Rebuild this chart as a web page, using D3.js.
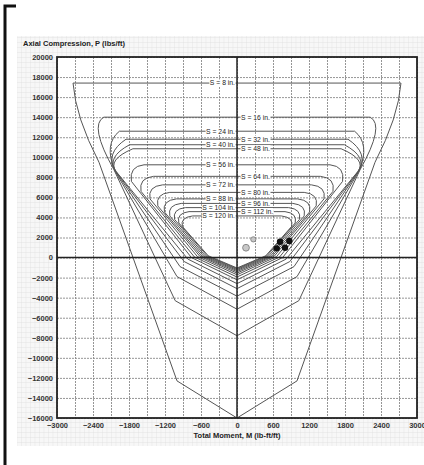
<!DOCTYPE html>
<html>
<head>
<meta charset="utf-8">
<script src="https://cdn.jsdelivr.net/npm/d3@7"></script>
<style>
body { margin: 0; background: #fff; }
svg text { font-family: "Liberation Sans", Arial, sans-serif; }
.tick-label { font-size: 7.5px; font-weight: bold; fill: #333; }
.axis-label { font-size: 7.5px; font-weight: bold; fill: #222; }
.s-label { font-size: 6.8px; fill: #222; }
.grid line { stroke: #8a8a8a; stroke-dasharray: 2,1; stroke-width: 0.9; }
.curve { fill: none; stroke: #555; stroke-width: 1; }
</style>
</head>
<body>
<div id="viz"></div>
<script>
const width = 424;
const height = 465;

// bar spacing for each curve, in.
const spacing = [8, 16, 24, 32, 40, 48, 56, 64, 72, 80, 88, 96, 104, 112, 120];
// right half of each curve (left half is the mirror)
const pTop  = [17400, 14000, 12600, 11800, 11250, 10850, 9250, 8100, 7250, 6500, 5850, 5400, 4980, 4580, 4150];
const mTop  = [2733, 2220, 1960, 1850, 1790, 1735, 1550, 1390, 1240, 1120, 1010, 930, 860, 800, 740];
// control point of the rounded knee
const mCtrl = [2690, 2470, 2220, 2200, 2180, 2170, 1800, 1640, 1490, 1360, 1250, 1160, 1080, 1010, 950];
const pCtrl = [14000, 13200, 11350, 10400, 10000, 9750, 9100, 7950, 7100, 6350, 5700, 5250, 4830, 4430, 4000];
const mOut  = [2300, 2050, 2040, 2030, 2020, 2010, 1760, 1600, 1450, 1320, 1210, 1120, 1040, 970, 910];
const pOut  = [9500, 8750, 8700, 8650, 8600, 8550, 7600, 6600, 5850, 5150, 4550, 4150, 3800, 3450, 3100];
const mLow  = [1000, 1030, 1000, 950, 880, 820, 760, 710, 660, 620, 590, 560, 530, 500, 480];
const pLow  = [-12300, -4300, -1900, -900, -400, -150, 0, 60, 100, 130, 150, 160, 170, 175, 180];
const pTip  = [-16000, -7800, -5150, -3850, -3100, -2600, -2220, -1940, -1720, -1550, -1410, -1290, -1190, -1110, -1040];

// applied loads
const loadM = [717, 872, 662, 800];
const loadP = [1575, 1645, 918, 978];
const openM = [150, 272];
const openP = [980, 1815];

const xTicks = [-3000, -2400, -1800, -1200, -600, 0, 600, 1200, 1800, 2400, 3000];
const yTicks = [-16000, -14000, -12000, -10000, -8000, -6000, -4000, -2000, 0,
    2000, 4000, 6000, 8000, 10000, 12000, 14000, 16000, 18000, 20000];
const xGrid = d3.range(-3000, 3001, 300);

const svg = d3.select("#viz")
    .append("svg")
    .attr("width", width)
    .attr("height", height)
    .attr("viewBox", `0 0 ${width} ${height}`);

const margin = { top: 57, right: 7, bottom: 47, left: 57 };
const innerWidth = width - margin.left - margin.right;
const innerHeight = height - margin.top - margin.bottom;

// fine background grid of the panel
const defs = svg.append("defs");
const pat = defs.append("pattern")
    .attr("id", "fine")
    .attr("patternUnits", "userSpaceOnUse")
    .attr("x", margin.left).attr("y", margin.top)
    .attr("width", 4.5).attr("height", 5);
pat.append("rect").attr("width", 4.5).attr("height", 5).attr("fill", "#f7f7f7");
pat.append("path").attr("d", "M0,0H4.5M0,0V5")
    .attr("stroke", "#dcdcdc").attr("stroke-width", 0.7).attr("fill", "none");

svg.append("rect")
    .attr("x", 17).attr("y", 36)
    .attr("width", width - 17).attr("height", 446 - 36)
    .attr("fill", "url(#fine)");

// black bracket on the left
svg.append("path")
    .attr("d", "M16,6H5V465")
    .attr("fill", "none")
    .attr("stroke", "#111")
    .attr("stroke-width", 3);

const xScale = d3.scaleLinear()
    .domain([-3000, 3000])
    .range([0, innerWidth]);

const yScale = d3.scaleLinear()
    .domain([-16000, 20000])
    .range([innerHeight, 0]);

const g = svg.append("g")
    .attr("transform", `translate(${margin.left}, ${margin.top})`);

g.append("rect")
    .attr("width", innerWidth)
    .attr("height", innerHeight)
    .attr("fill", "#fff");

// grid lines
g.append("g")
    .attr("class", "grid")
    .call(d3.axisBottom(xScale).tickValues(xGrid).tickSize(innerHeight).tickFormat(""))
    .select(".domain").remove();

g.append("g")
    .attr("class", "grid")
    .call(d3.axisLeft(yScale).tickValues(yTicks).tickSize(-innerWidth).tickFormat(""))
    .select(".domain").remove();

// tick labels
const xAxisG = g.append("g")
    .attr("transform", `translate(0, ${innerHeight})`)
    .call(d3.axisBottom(xScale).tickValues(xTicks).tickSize(0).tickPadding(5).tickFormat(d3.format("d")));
xAxisG.select(".domain").remove();
xAxisG.selectAll("text").attr("class", "tick-label");

const yAxisG = g.append("g")
    .call(d3.axisLeft(yScale).tickValues(yTicks).tickSize(0).tickPadding(4).tickFormat(d3.format("d")));
yAxisG.select(".domain").remove();
yAxisG.selectAll("text").attr("class", "tick-label");

// curves: straight lower part, rounded knee, flat top
const curvePath = i => {
    const p = d3.path();
    const X = m => xScale(m), Y = v => yScale(v);
    p.moveTo(X(0), Y(pTip[i]));
    p.lineTo(X(mLow[i]), Y(pLow[i]));
    p.lineTo(X(mOut[i]), Y(pOut[i]));
    p.quadraticCurveTo(X(mCtrl[i]), Y(pCtrl[i]), X(mTop[i]), Y(pTop[i]));
    p.lineTo(X(-mTop[i]), Y(pTop[i]));
    p.quadraticCurveTo(X(-mCtrl[i]), Y(pCtrl[i]), X(-mOut[i]), Y(pOut[i]));
    p.lineTo(X(-mLow[i]), Y(pLow[i]));
    p.closePath();
    return p.toString();
};

spacing.forEach((s, i) => {
    g.append("path")
        .attr("class", "curve")
        .attr("d", curvePath(i));
});

// zero axes
g.append("line")
    .attr("x1", xScale(0)).attr("x2", xScale(0))
    .attr("y1", 0).attr("y2", innerHeight)
    .attr("stroke", "#222").attr("stroke-width", 1.5);
g.append("line")
    .attr("x1", 0).attr("x2", innerWidth)
    .attr("y1", yScale(0)).attr("y2", yScale(0))
    .attr("stroke", "#222").attr("stroke-width", 1.5);

// curve labels on white boxes
spacing.forEach((s, i) => {
    const onLeft = i % 2 === 0;
    const lab = g.append("g");
    const t = lab.append("text")
        .attr("class", "s-label")
        .attr("x", onLeft ? xScale(0) - 2 : xScale(0) + 4)
        .attr("y", yScale(pTop[i]))
        .attr("dy", "0.35em")
        .attr("text-anchor", onLeft ? "end" : "start")
        .text(`S = ${s} in.`);
    const bb = t.node().getBBox();
    lab.insert("rect", "text")
        .attr("x", bb.x - 0.5)
        .attr("y", bb.y)
        .attr("width", bb.width + 1)
        .attr("height", bb.height)
        .attr("fill", "#fff");
});

// loads
g.selectAll(".open")
    .data(openM)
    .enter()
    .append("circle")
    .attr("cx", d => xScale(d))
    .attr("cy", (d, i) => yScale(openP[i]))
    .attr("r", (d, i) => i === 0 ? 3.4 : 2.6)
    .attr("fill", "#c8c8c8")
    .attr("stroke", "#777")
    .attr("stroke-width", 0.8);

g.selectAll(".load")
    .data(loadM)
    .enter()
    .append("circle")
    .attr("cx", d => xScale(d))
    .attr("cy", (d, i) => yScale(loadP[i]))
    .attr("r", 3.2)
    .attr("fill", "#111");

// plot border
g.append("rect")
    .attr("width", innerWidth)
    .attr("height", innerHeight)
    .attr("fill", "none")
    .attr("stroke", "#222")
    .attr("stroke-width", 1.8);

// axis titles
svg.append("text")
    .attr("class", "axis-label")
    .attr("x", 23)
    .attr("y", 46)
    .text("Axial Compression, P (lbs/ft)");

svg.append("text")
    .attr("class", "axis-label")
    .attr("x", margin.left + xScale(0))
    .attr("y", 438)
    .attr("text-anchor", "middle")
    .text("Total Moment, M (lb-ft/ft)");
</script>
</body>
</html>
